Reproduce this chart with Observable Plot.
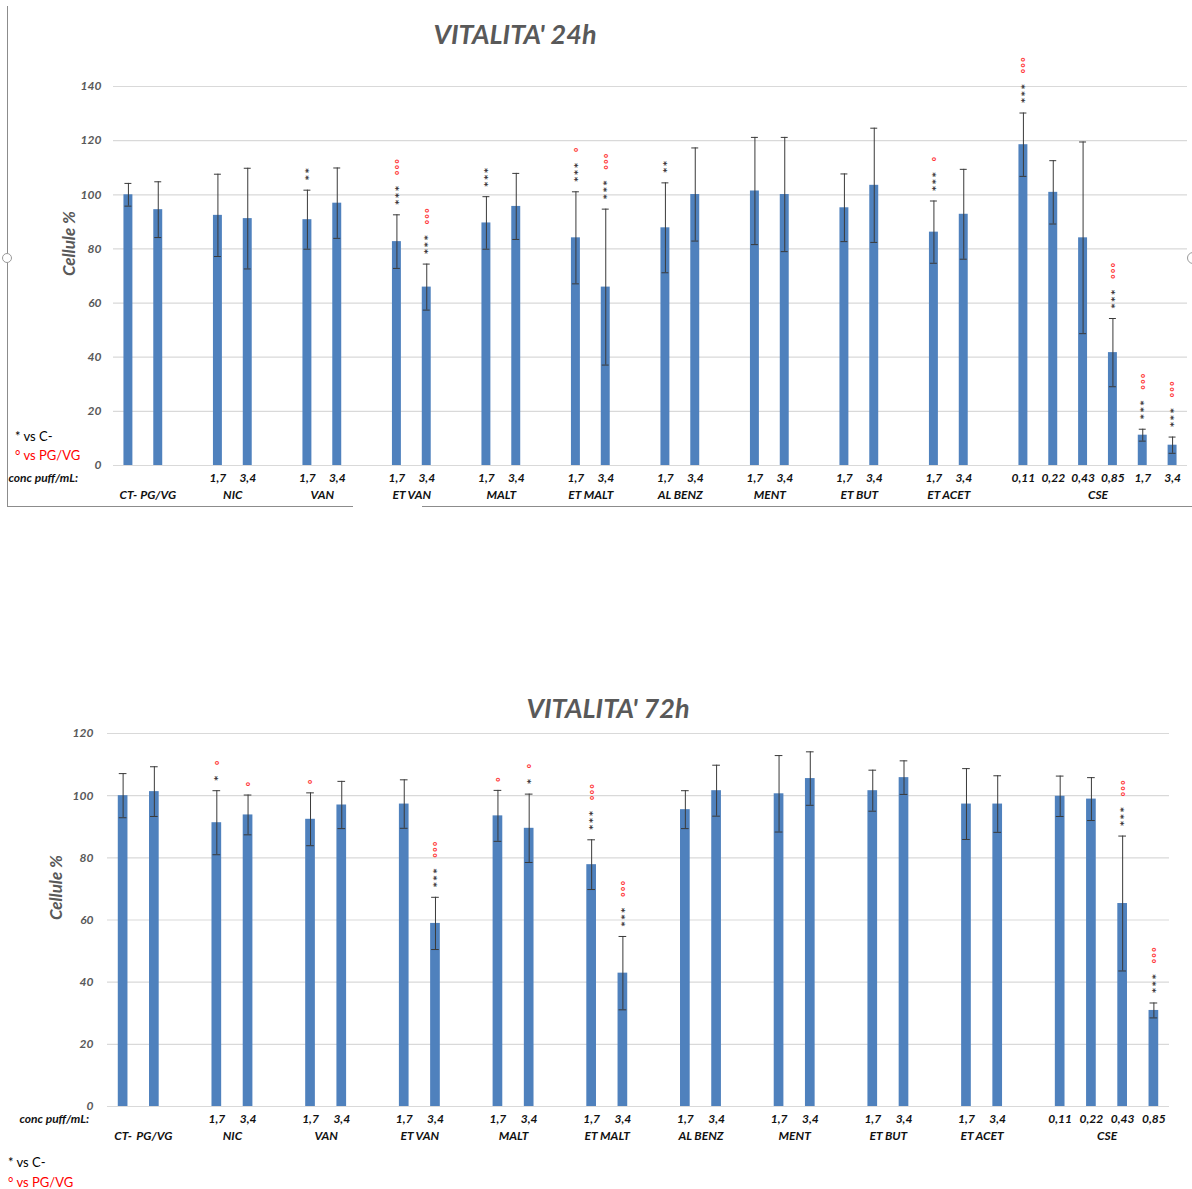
<!DOCTYPE html>
<html>
<head>
<meta charset="utf-8">
<script src="https://cdn.jsdelivr.net/npm/d3@7"></script>
<script src="https://cdn.jsdelivr.net/npm/@observablehq/plot@0.6"></script>
<style>
  body { margin: 0; background: #fff; }
  #page { position: relative; width: 1192px; height: 1189px; overflow: hidden; font-family: Lato, "Open Sans", sans-serif; background: #fff; }
  .abs { position: absolute; }
  .title { font-weight: bold; font-style: italic; color: #595959; font-size: 27px; line-height: 1; white-space: nowrap; }
  .legend { font-size: 13px; line-height: 1; white-space: nowrap; color: #000; }
  .legend.red { color: #ff0000; }
  .frame { background: #8c8c8c; }
  .handle { width: 10px; height: 10px; border: 1.5px solid #9a9a9a; border-radius: 50%; background: #fff; box-sizing: border-box; }
</style>
</head>
<body>
<div id="page"></div>
<script>
// Cell viability (% of control) after 24 h exposure
const group24 = ["CT-", "PG/VG", "NIC", "NIC", "VAN", "VAN", "ET VAN", "ET VAN", "MALT", "MALT",
  "ET MALT", "ET MALT", "AL BENZ", "AL BENZ", "MENT", "MENT", "ET BUT", "ET BUT", "ET ACET", "ET ACET",
  "CSE", "CSE", "CSE", "CSE", "CSE", "CSE"];
const conc24 = ["", "", "1,7", "3,4", "1,7", "3,4", "1,7", "3,4", "1,7", "3,4",
  "1,7", "3,4", "1,7", "3,4", "1,7", "3,4", "1,7", "3,4", "1,7", "3,4",
  "0,11", "0,22", "0,43", "0,85", "1,7", "3,4"];
const mean24 = [100, 94.5, 92.4, 91.2, 90.8, 96.9, 82.7, 65.9, 89.6, 95.7,
  84.1, 65.9, 87.8, 100.1, 101.4, 100.1, 95.2, 103.5, 86.2, 92.8,
  118.5, 100.9, 84.1, 41.7, 11.2, 7.5];
const sd24 = [4.2, 10.3, 15.2, 18.6, 10.9, 13.0, 9.9, 8.5, 9.7, 12.2,
  17.0, 28.8, 16.6, 17.2, 19.8, 21.1, 12.5, 21.1, 11.5, 16.6,
  11.7, 11.7, 35.4, 12.6, 2.2, 3.0];
const vsCtrl24 = ["", "", "", "", "**", "", "***", "***", "***", "",
  "***", "***", "**", "", "", "", "", "", "***", "",
  "***", "", "", "***", "***", "***"];
const vsPgvg24 = ["", "", "", "", "", "", "°°°", "°°°", "", "",
  "°", "°°°", "", "", "", "", "", "", "°", "",
  "°°°", "", "", "°°°", "°°°", "°°°"];

// Cell viability (% of control) after 72 h exposure
const group72 = ["CT-", "PG/VG", "NIC", "NIC", "VAN", "VAN", "ET VAN", "ET VAN", "MALT", "MALT",
  "ET MALT", "ET MALT", "AL BENZ", "AL BENZ", "MENT", "MENT", "ET BUT", "ET BUT", "ET ACET", "ET ACET",
  "CSE", "CSE", "CSE", "CSE"];
const conc72 = ["", "", "1,7", "3,4", "1,7", "3,4", "1,7", "3,4", "1,7", "3,4",
  "1,7", "3,4", "1,7", "3,4", "1,7", "3,4", "1,7", "3,4", "1,7", "3,4",
  "0,11", "0,22", "0,43", "0,85"];
const mean72 = [100, 101.3, 91.3, 93.8, 92.4, 97.0, 97.3, 58.9, 93.5, 89.5,
  77.8, 42.9, 95.5, 101.6, 100.6, 105.5, 101.6, 105.8, 97.3, 97.3,
  99.8, 98.9, 65.3, 30.9];
const sd72 = [7.1, 8.0, 10.3, 6.4, 8.5, 7.6, 7.8, 8.4, 8.2, 11.0,
  8.0, 11.8, 6.1, 8.2, 12.3, 8.6, 6.6, 5.4, 11.4, 9.1,
  6.5, 6.9, 21.7, 2.4];
const vsCtrl72 = ["", "", "*", "", "", "", "", "***", "", "*",
  "***", "***", "", "", "", "", "", "", "", "",
  "", "", "***", "***"];
const vsPgvg72 = ["", "", "°", "°", "°", "", "", "°°°", "°", "°",
  "°°°", "°°°", "", "", "", "", "", "", "", "",
  "", "", "°°°", "°°°"];

const yTicks24 = [0, 20, 40, 60, 80, 100, 120, 140];
const yTicks72 = [0, 20, 40, 60, 80, 100, 120];

const W = 1192;
const page = document.getElementById("page");

function el(cls, text, css) {
  const d = document.createElement("div");
  d.className = "abs " + cls;
  if (text != null) d.textContent = text;
  Object.assign(d.style, css);
  page.appendChild(d);
  return d;
}

// asterisks are spread apart with thin spaces
const spread = (s) => s.split("").join("\u2009");

function barChart({group, conc, mean, sd, vsCtrl, vsPgvg, yTicks, height, mt, mb, ml, mr, pad, tickPadding, ylabelOffset}) {
  const bars = group.map((g, i) => ({
    key: conc[i] ? `${g} ${conc[i]}` : g,
    group: g, conc: conc[i], mean: mean[i], sd: sd[i],
    lo: mean[i] - sd[i], hi: mean[i] + sd[i],
    stars: vsCtrl[i], rings: vsPgvg[i]
  }));
  // band domain: an empty slot separates each treatment from the previous one
  const domain = [];
  let prev = null;
  for (const b of bars) {
    if (prev !== null && b.group !== prev && b.conc) domain.push("gap" + domain.length);
    domain.push(b.key);
    prev = b.group;
  }
  const step = (W - ml - mr) / domain.length;
  const groups = d3.groups(bars, (d) => d.group).map(([g, bs]) => ({
    label: g, key: bs[Math.floor((bs.length - 1) / 2)].key, n: bs.length
  }));
  const txt = {fontFamily: "Lato", fontWeight: "bold", fontStyle: "italic", fontSize: 12, fill: "#111"};
  // significance symbols run upwards above the error bar
  const ringMarks = [0, 1, 2, 3].map((n) =>
    Plot.text(bars.filter((b) => b.rings && b.stars.length === n), {
      x: "key", y: "hi", text: "rings", rotate: -90, textAnchor: "start",
      dy: n ? -(25 + 7 * (n - 1)) : -8, dx: 3.2, fontSize: 11.5, fontWeight: "bold", fontFamily: "DejaVu Sans",
      fill: "#ff3b3b"
    })
  );
  return Plot.plot({
    width: W, height,
    marginTop: mt, marginBottom: mb, marginLeft: ml, marginRight: mr,
    style: {fontFamily: "Lato", background: "transparent", overflow: "visible"},
    x: {type: "band", domain, paddingInner: pad, paddingOuter: pad / 2, round: false, axis: null},
    y: {domain: [0, yTicks[yTicks.length - 1]], label: null},
    marks: [
      Plot.gridY(yTicks, {stroke: "#d9d9d9", strokeOpacity: 1, strokeWidth: 1.2}),
      Plot.axisY(yTicks, {tickSize: 0, tickPadding, label: null, fontSize: 12, fontStyle: "italic", fontWeight: "bold", color: "#595959"}),
      Plot.barY(bars, {x: "key", y: "mean", fill: "#4f81bd"}),
      Plot.ruleX(bars, {x: "key", y1: "lo", y2: "hi", stroke: "#3a3a3a", strokeWidth: 1}),
      Plot.tickY(bars, {x: "key", y: "lo", stroke: "#3a3a3a", strokeWidth: 1, insetLeft: 1, insetRight: 1}),
      Plot.tickY(bars, {x: "key", y: "hi", stroke: "#3a3a3a", strokeWidth: 1, insetLeft: 1, insetRight: 1}),
      Plot.text(bars.filter((b) => b.stars), {
        x: "key", y: "hi", text: (d) => spread(d.stars), rotate: -90, textAnchor: "start",
        dy: -10, dx: 1.6, fontSize: 9.5, fontWeight: "bold", fontFamily: "DejaVu Sans", fill: "#333"
      }),
      ...ringMarks,
      // concentration row
      Plot.text(bars.filter((b) => b.conc), {x: "key", text: "conc", frameAnchor: "bottom", dy: 16, ...txt}),
      // treatment row
      Plot.text(groups.filter((g) => g.n === 1), {x: "key", text: "label", frameAnchor: "bottom", dy: 33, ...txt}),
      Plot.text(groups.filter((g) => g.n > 1), {x: "key", text: "label", frameAnchor: "bottom", dy: 33, dx: step / 2, ...txt}),
      Plot.text(["conc puff/mL:"], {text: (d) => d, frameAnchor: "bottom-left", dx: ylabelOffset.conc - ml, dy: 16, textAnchor: "start", ...txt}),
      Plot.text(["Cellule %"], {text: (d) => d, frameAnchor: "left", rotate: -90, dx: -ylabelOffset.axis, fontFamily: "Lato", fontWeight: "bold", fontStyle: "italic", fontSize: 17, fill: "#595959"})
    ]
  });
}

// 24 h panel
const top24 = barChart({
  group: group24, conc: conc24, mean: mean24, sd: sd24, vsCtrl: vsCtrl24, vsPgvg: vsPgvg24,
  yTicks: yTicks24, height: 520, mt: 86, mb: 55, ml: 113, mr: 5, pad: 0.7, tickPadding: 12,
  ylabelOffset: {conc: 8, axis: 44}
});
top24.style.position = "absolute"; top24.style.left = "0px"; top24.style.top = "0px";
page.appendChild(top24);

// 72 h panel
const bot72 = barChart({
  group: group72, conc: conc72, mean: mean72, sd: sd72, vsCtrl: vsCtrl72, vsPgvg: vsPgvg72,
  yTicks: yTicks72, height: 509, mt: 53, mb: 83, ml: 107, mr: 23, pad: 0.69, tickPadding: 14,
  ylabelOffset: {conc: 19, axis: 51}
});
bot72.style.position = "absolute"; bot72.style.left = "0px"; bot72.style.top = "680px";
page.appendChild(bot72);

// titles
el("title", "VITALITA' 24h", {left: "515px", top: "20px", transform: "translateX(-50%)"});
el("title", "VITALITA' 72h", {left: "608px", top: "694px", transform: "translateX(-50%)"});

// significance legends
el("legend", "* vs C-", {left: "15px", top: "430px"});
el("legend red", "° vs PG/VG", {left: "15px", top: "449px"});
el("legend", "* vs C-", {left: "8px", top: "1156px"});
el("legend red", "° vs PG/VG", {left: "8px", top: "1176px"});

// chart-area border of the 24 h panel
el("frame", null, {left: "7px", top: "6px", width: "1px", height: "500px"});
el("frame", null, {left: "7px", top: "506px", width: "346px", height: "1px"});
el("frame", null, {left: "422px", top: "506px", width: "770px", height: "1px"});
el("handle", null, {left: "2px", top: "253px"});
el("handle", null, {left: "1187px", top: "252px", width: "12px", height: "12px"});
</script>
</body>
</html>
